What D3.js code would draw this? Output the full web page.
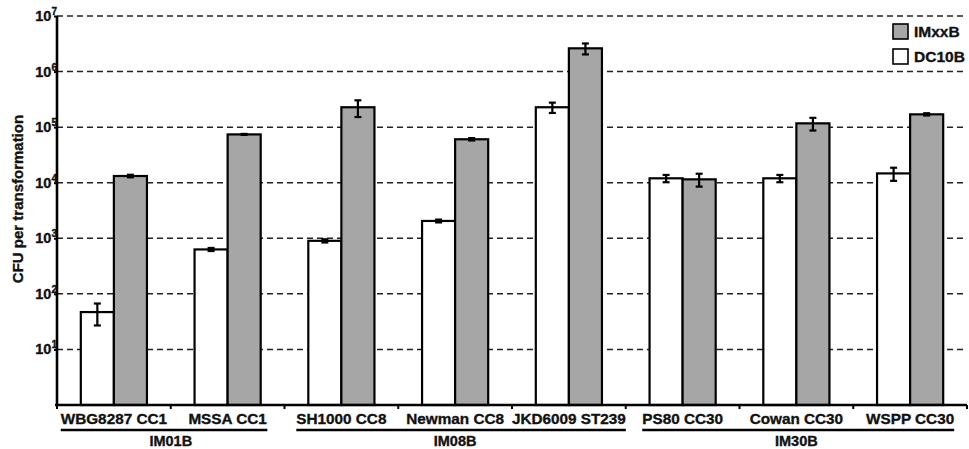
<!DOCTYPE html>
<html>
<head>
<meta charset="utf-8">
<script src="https://cdn.jsdelivr.net/npm/d3@7"></script>
<style>
  html, body { margin: 0; padding: 0; background: #fff; }
  svg { display: block; font-family: "Liberation Sans", Arial, sans-serif; font-weight: bold; }
  svg text { stroke: #111; stroke-width: 0.35px; }
</style>
</head>
<body>
<svg id="chart" width="969" height="449"></svg>
<script>
const categories = ["WBG8287 CC1", "MSSA CC1", "SH1000 CC8", "Newman CC8", "JKD6009 ST239", "PS80 CC30", "Cowan CC30", "WSPP CC30"];
const seriesNames = ["DC10B", "IMxxB"];
const dc10b = [47, 630, 900, 2050, 228000, 12000, 12000, 14700];
const dc10bErr = [20, 40, 60, 120, 48000, 1800, 1800, 3900];
const imxxb = [13200, 74000, 228000, 60500, 2620000, 11500, 117000, 170000];
const imxxbErr = [700, 1500, 76000, 3000, 585000, 3000, 30000, 8000];
const groupNames = ["IM01B", "IM08B", "IM30B"];
const groupMembers = [[0, 1], [2, 3, 4], [5, 6, 7]];
const yTickExps = [1, 2, 3, 4, 5, 6, 7];

(function () {
const svg = d3.select("#chart");
const mLeft = 57, mRight = 967, mTop = 16, mBottom = 405;

const x = d3.scaleBand().domain(categories).range([mLeft, mRight]).paddingInner(0).paddingOuter(0);
const xs = d3.scaleBand().domain(seriesNames).range([0, x.bandwidth()]).paddingInner(0).paddingOuter(0.72);
const y = d3.scaleLog().domain([1, 1e7]).range([mBottom, mTop]);

const fills = { DC10B: "#ffffff", IMxxB: "#a6a6a6" };

// gridlines
svg.append("g").selectAll("line").data(yTickExps).join("line")
  .attr("x1", mLeft).attr("x2", mRight)
  .attr("y1", d => y(Math.pow(10, d))).attr("y2", d => y(Math.pow(10, d)))
  .attr("stroke", "#222").attr("stroke-width", 1.5).attr("stroke-dasharray", "6,4");

// bars
const rows = [];
categories.forEach((c, i) => {
  rows.push({ cat: c, s: "DC10B", v: dc10b[i], e: dc10bErr[i] });
  rows.push({ cat: c, s: "IMxxB", v: imxxb[i], e: imxxbErr[i] });
});

svg.append("g").selectAll("rect").data(rows).join("rect")
  .attr("x", d => x(d.cat) + xs(d.s))
  .attr("width", xs.bandwidth())
  .attr("y", d => y(d.v))
  .attr("height", d => y(1) - y(d.v))
  .attr("fill", d => fills[d.s])
  .attr("stroke", "#000").attr("stroke-width", 2.2);

// error bars
const eb = svg.append("g").attr("stroke", "#000").attr("stroke-width", 2.2);
rows.forEach(d => {
  const cx = x(d.cat) + xs(d.s) + xs.bandwidth() / 2;
  const yt = y(d.v + d.e), yb = y(Math.max(d.v - d.e, 1));
  eb.append("line").attr("x1", cx).attr("x2", cx).attr("y1", yt).attr("y2", yb);
  eb.append("line").attr("x1", cx - 3.5).attr("x2", cx + 3.5).attr("y1", yt).attr("y2", yt);
  eb.append("line").attr("x1", cx - 3.5).attr("x2", cx + 3.5).attr("y1", yb).attr("y2", yb);
});

// y axis
const yAxis = svg.append("g").attr("transform", `translate(${mLeft},0)`)
  .call(d3.axisLeft(y).tickValues(yTickExps.map(e => Math.pow(10, e))).tickSize(3).tickFormat(""));
yAxis.select(".domain").attr("stroke-width", 2.6).attr("d", `M0,${mTop}V${mBottom}`);
yAxis.selectAll(".tick line").attr("stroke-width", 2);

const yLab = svg.append("g");
yTickExps.forEach(e => {
  const t = yLab.append("text").attr("x", mLeft).attr("y", y(Math.pow(10, e)) + 5)
    .attr("text-anchor", "end").attr("font-size", 14.5).attr("fill", "#111");
  t.append("tspan").text("10");
  t.append("tspan").attr("dy", -6).attr("font-size", 10).text(e);
});

svg.append("text").attr("transform", `translate(23,199) rotate(-90)`)
  .attr("text-anchor", "middle").attr("font-size", 15).attr("fill", "#111")
  .text("CFU per transformation");

// x axis
const xAxis = svg.append("g").attr("transform", `translate(0,${mBottom})`);
xAxis.append("line").attr("x1", mLeft - 2).attr("x2", mRight).attr("y1", 0).attr("y2", 0)
  .attr("stroke", "#000").attr("stroke-width", 2.4);
const bounds = categories.map(c => x(c)).concat([mRight]);
xAxis.selectAll("line.tk").data(bounds).join("line").attr("class", "tk")
  .attr("x1", d => d).attr("x2", d => d).attr("y1", 0).attr("y2", 4)
  .attr("stroke", "#000").attr("stroke-width", 2);

const catLabels = svg.append("g").selectAll("text").data(categories).join("text")
  .attr("x", d => x(d) + x.bandwidth() / 2).attr("y", 424)
  .attr("text-anchor", "middle").attr("font-size", 15.3).attr("fill", "#111")
  .text(d => d);

const nodes = catLabels.nodes();
groupMembers.forEach((mem, gi) => {
  const b0 = nodes[mem[0]].getBBox();
  const b1 = nodes[mem[mem.length - 1]].getBBox();
  svg.append("line").attr("x1", b0.x).attr("x2", b1.x + b1.width)
    .attr("y1", 430).attr("y2", 430).attr("stroke", "#000").attr("stroke-width", 2.6);
  const gx0 = x(categories[mem[0]]);
  const gx1 = x(categories[mem[mem.length - 1]]) + x.bandwidth();
  svg.append("text").attr("x", (gx0 + gx1) / 2).attr("y", 446)
    .attr("text-anchor", "middle").attr("font-size", 14.5).attr("fill", "#111")
    .text(groupNames[gi]);
});

// legend
const legendItems = ["IMxxB", "DC10B"];
const lg = svg.append("g");
legendItems.forEach((s, i) => {
  lg.append("rect").attr("x", 893).attr("y", 24 + i * 25).attr("width", 15).attr("height", 15)
    .attr("fill", fills[s]).attr("stroke", "#000").attr("stroke-width", 1.6);
  lg.append("text").attr("x", 914).attr("y", 37 + i * 25).attr("font-size", 15.5).attr("fill", "#111").text(s);
});
})();
</script>
</body>
</html>
